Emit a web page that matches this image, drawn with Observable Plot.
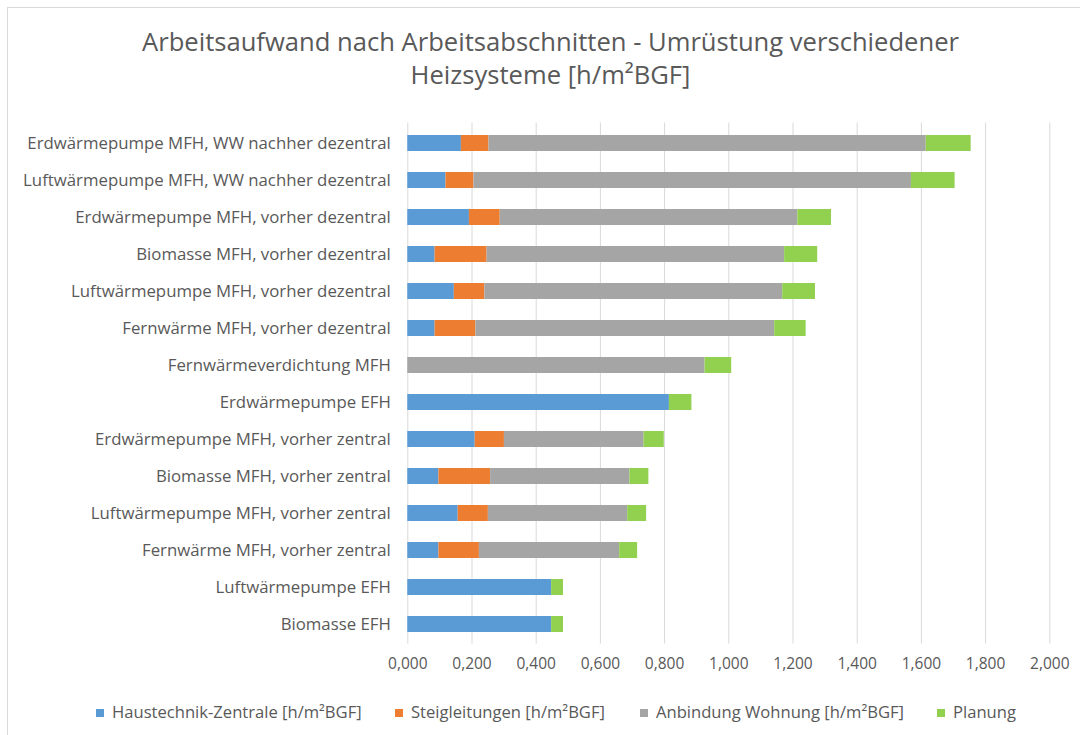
<!DOCTYPE html>
<html>
<head>
<meta charset="utf-8">
<script src="https://cdn.jsdelivr.net/npm/d3@7"></script>
<script src="https://cdn.jsdelivr.net/npm/@observablehq/plot@0.6"></script>
<style>
  html, body { margin: 0; padding: 0; background: #fff; }
  #wrap { position: relative; width: 1080px; height: 735px; overflow: hidden; font-family: "Open Sans", sans-serif; color: #595959; }
  #frame { position: absolute; left: 7px; top: 7px; width: 1200px; height: 800px; border: 1.5px solid #d9d9d9; box-sizing: border-box; }
  #title { position: absolute; left: 0; width: 1101px; top: 25px; text-align: center; font-size: 25.6px; line-height: 33px; color: #595959; }
  #chart { position: absolute; left: 0; top: 0; }
  #legend { position: absolute; top: 700px; left: 0; width: 1080px; height: 24px; font-size: 16.6px; color: #595959; }
  .li { position: absolute; top: 0; white-space: nowrap; line-height: 24px; }
  .sw { display: inline-block; width: 8px; height: 8px; margin-right: 8px; vertical-align: 1px; }
</style>
</head>
<body>
<div id="wrap">
  <div id="frame"></div>
  <div id="chart"></div>
  <div id="title">Arbeitsaufwand nach Arbeitsabschnitten - Umrüstung verschiedener<br>Heizsysteme [h/m²BGF]</div>
  <div id="legend"></div>
</div>
<script>
const categories = [
  "Erdwärmepumpe MFH, WW nachher dezentral",
  "Luftwärmepumpe MFH, WW nachher dezentral",
  "Erdwärmepumpe MFH, vorher dezentral",
  "Biomasse MFH, vorher dezentral",
  "Luftwärmepumpe MFH, vorher dezentral",
  "Fernwärme MFH, vorher dezentral",
  "Fernwärmeverdichtung MFH",
  "Erdwärmepumpe EFH",
  "Erdwärmepumpe MFH, vorher zentral",
  "Biomasse MFH, vorher zentral",
  "Luftwärmepumpe MFH, vorher zentral",
  "Fernwärme MFH, vorher zentral",
  "Luftwärmepumpe EFH",
  "Biomasse EFH"
];
const haustechnik    = [0.167, 0.119, 0.192, 0.085, 0.145, 0.085, 0.000, 0.815, 0.210, 0.097, 0.157, 0.097, 0.448, 0.448];
const steigleitungen = [0.086, 0.087, 0.096, 0.162, 0.095, 0.127, 0.000, 0.000, 0.091, 0.161, 0.094, 0.126, 0.000, 0.000];
const anbindung      = [1.362, 1.363, 0.927, 0.927, 0.928, 0.931, 0.926, 0.000, 0.435, 0.434, 0.434, 0.437, 0.000, 0.000];
const planung        = [0.140, 0.136, 0.105, 0.103, 0.102, 0.098, 0.083, 0.070, 0.063, 0.059, 0.059, 0.056, 0.037, 0.037];

const seriesNames = ["Haustechnik-Zentrale [h/m²BGF]", "Steigleitungen [h/m²BGF]", "Anbindung Wohnung [h/m²BGF]", "Planung"];
const seriesColors = ["#5B9BD5", "#ED7D31", "#A5A5A5", "#92D050"];
const xTicks = [0, 0.2, 0.4, 0.6, 0.8, 1.0, 1.2, 1.4, 1.6, 1.8, 2.0];

const seriesValues = [haustechnik, steigleitungen, anbindung, planung];
const data = [];
categories.forEach((c, i) => {
  seriesNames.forEach((s, j) => {
    data.push({category: c, series: s, value: seriesValues[j][i]});
  });
});

const fmt = d => d.toFixed(3).replace(".", ",");

const chart = Plot.plot({
  width: 1080,
  height: 690,
  marginLeft: 407.3,
  marginRight: 30.7,
  marginTop: 122.6,
  marginBottom: 46.4,
  style: {fontFamily: "'Open Sans', sans-serif", fontSize: "15.5px", color: "#595959", background: "transparent"},
  x: {domain: [0, 2], ticks: xTicks, tickFormat: fmt, label: null, tickSize: 0, tickPadding: 14},
  y: {domain: categories, paddingInner: 0.57, paddingOuter: 0.285, label: null, tickSize: 0, tickPadding: 17},
  color: {domain: seriesNames, range: seriesColors},
  marks: [
    Plot.gridX(xTicks, {stroke: "#d9d9d9", strokeOpacity: 1, strokeWidth: 1}),
    Plot.barX(data, Plot.stackX({y: "category", x: "value", fill: "series", order: seriesNames})),
    Plot.axisY({tickSize: 0, tickPadding: 17, fontSize: 16.8, label: null})
  ]
});
document.getElementById("chart").appendChild(chart);

const legendPos = [96, 395, 640, 937];
const legend = document.getElementById("legend");
seriesNames.forEach((s, j) => {
  const item = document.createElement("div");
  item.className = "li";
  item.style.left = legendPos[j] + "px";
  const sw = document.createElement("span");
  sw.className = "sw";
  sw.style.background = seriesColors[j];
  item.appendChild(sw);
  item.appendChild(document.createTextNode(s));
  legend.appendChild(item);
});
</script>
</body>
</html>
